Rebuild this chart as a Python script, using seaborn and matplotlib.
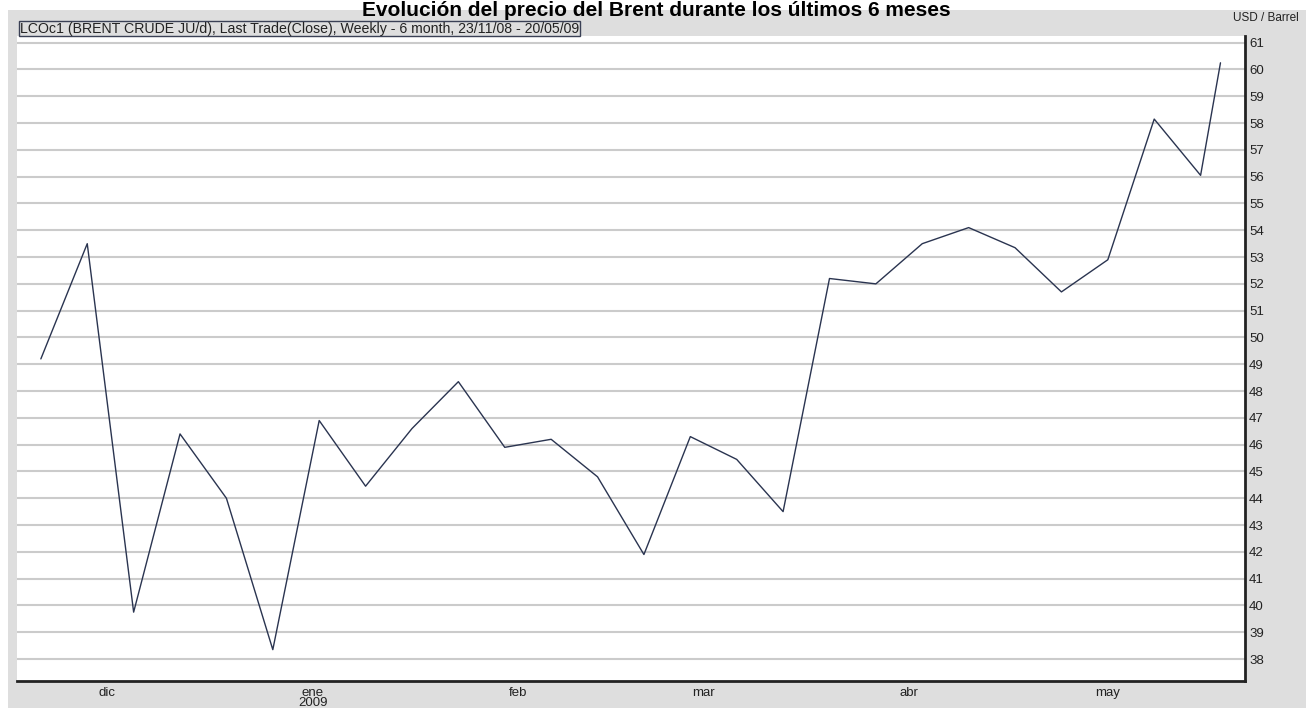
import numpy as np
import pandas as pd
import matplotlib
matplotlib.use("Agg")
import matplotlib.pyplot as plt
import matplotlib.dates as mdates
from matplotlib.patches import Rectangle
import seaborn as sns

# Weekly closes of Brent crude (USD / barrel)
dates = [
    "2008-11-21", "2008-11-28", "2008-12-05", "2008-12-12", "2008-12-19",
    "2008-12-26", "2009-01-02", "2009-01-09", "2009-01-16", "2009-01-23",
    "2009-01-30", "2009-02-06", "2009-02-13", "2009-02-20", "2009-02-27",
    "2009-03-06", "2009-03-13", "2009-03-20", "2009-03-27", "2009-04-03",
    "2009-04-10", "2009-04-17", "2009-04-24", "2009-05-01", "2009-05-08",
    "2009-05-15", "2009-05-18",
]
prices = [
    49.2, 53.5, 39.75, 46.4, 44.0,
    38.35, 46.9, 44.45, 46.6, 48.35,
    45.9, 46.2, 44.8, 41.9, 46.3,
    45.45, 43.5, 52.2, 52.0, 53.5,
    54.1, 53.35, 51.7, 52.9, 58.15,
    56.05, 60.25,
]

month_ticks = ["2008-12-01", "2009-01-01", "2009-02-01", "2009-03-01", "2009-04-01", "2009-05-01"]
month_labels = ["dic", "ene\n2009", "feb", "mar", "abr", "may"]
price_ticks = list(range(38, 62))

title = "Evolución del precio del Brent durante los últimos 6 meses"
legend_text = "LCOc1 (BRENT CRUDE JU/d), Last Trade(Close), Weekly - 6 month, 23/11/08 - 20/05/09"
unit_text = "USD / Barrel"

df = pd.DataFrame({"date": pd.to_datetime(dates), "price": prices})

sns.set_style("white")
plt.rcParams["font.family"] = ["Liberation Sans", "DejaVu Sans"]

W, H = 1306, 708
fig = plt.figure(figsize=(W / 100, H / 100), dpi=100)
fig.patch.set_facecolor("white")

# gray chart background (image starts a few px in from the top-left)
bg = Rectangle((8 / W, 0), 1 - 8 / W, 1 - 10 / H, transform=fig.transFigure,
               facecolor="#dedede", edgecolor="none", zorder=-5)
fig.patches.append(bg)

ax = fig.add_axes([17 / W, 1 - 681 / H, (1245 - 17) / W, (681 - 36) / H])
ax.set_zorder(1)
ax.set_facecolor("white")

sns.lineplot(data=df, x="date", y="price", ax=ax, color="#2a3450", linewidth=1.0)

first = pd.Timestamp(dates[0])
ax.set_xlim(mdates.date2num(first - pd.Timedelta(days=3.6)),
            mdates.date2num(first + pd.Timedelta(days=181.7)))
ax.set_ylim(37.18, 61.25)

ax.set_yticks(price_ticks)
ax.set_yticklabels([str(t) for t in price_ticks])
ax.yaxis.tick_right()
ax.yaxis.grid(True, color="#cbcbcb", linewidth=1.5)
ax.xaxis.grid(False)
ax.set_axisbelow(True)

ax.set_xticks([mdates.date2num(pd.Timestamp(d)) for d in month_ticks])
ax.set_xticklabels(month_labels, linespacing=0.8)
ax.tick_params(axis="x", length=0, pad=4, labelsize=9.5, colors="#222222")
ax.tick_params(axis="y", length=0, pad=3, labelsize=9.5, colors="#222222")
ax.set_xlabel("")
ax.set_ylabel("")

for side in ["left", "top"]:
    ax.spines[side].set_visible(False)
for side in ["right", "bottom"]:
    ax.spines[side].set_color("#222222")
    ax.spines[side].set_linewidth(2)

fig.text(656 / W, 1 - 15.5 / H, title, ha="center", va="baseline",
         fontsize=15, fontweight="bold", color="black", zorder=2)
fig.text(20 / W, 1 - 28.5 / H, legend_text, ha="left", va="center", fontsize=10.2, color="#222222",
         zorder=3,
         bbox=dict(boxstyle="square,pad=0.05", facecolor="#dedede", edgecolor="#3a4055", linewidth=1))
fig.text(1299 / W, 1 - 18 / H, unit_text, ha="right", va="center", fontsize=8.5, color="#222222",
         zorder=3)

fig.savefig("out.png", dpi=100)
